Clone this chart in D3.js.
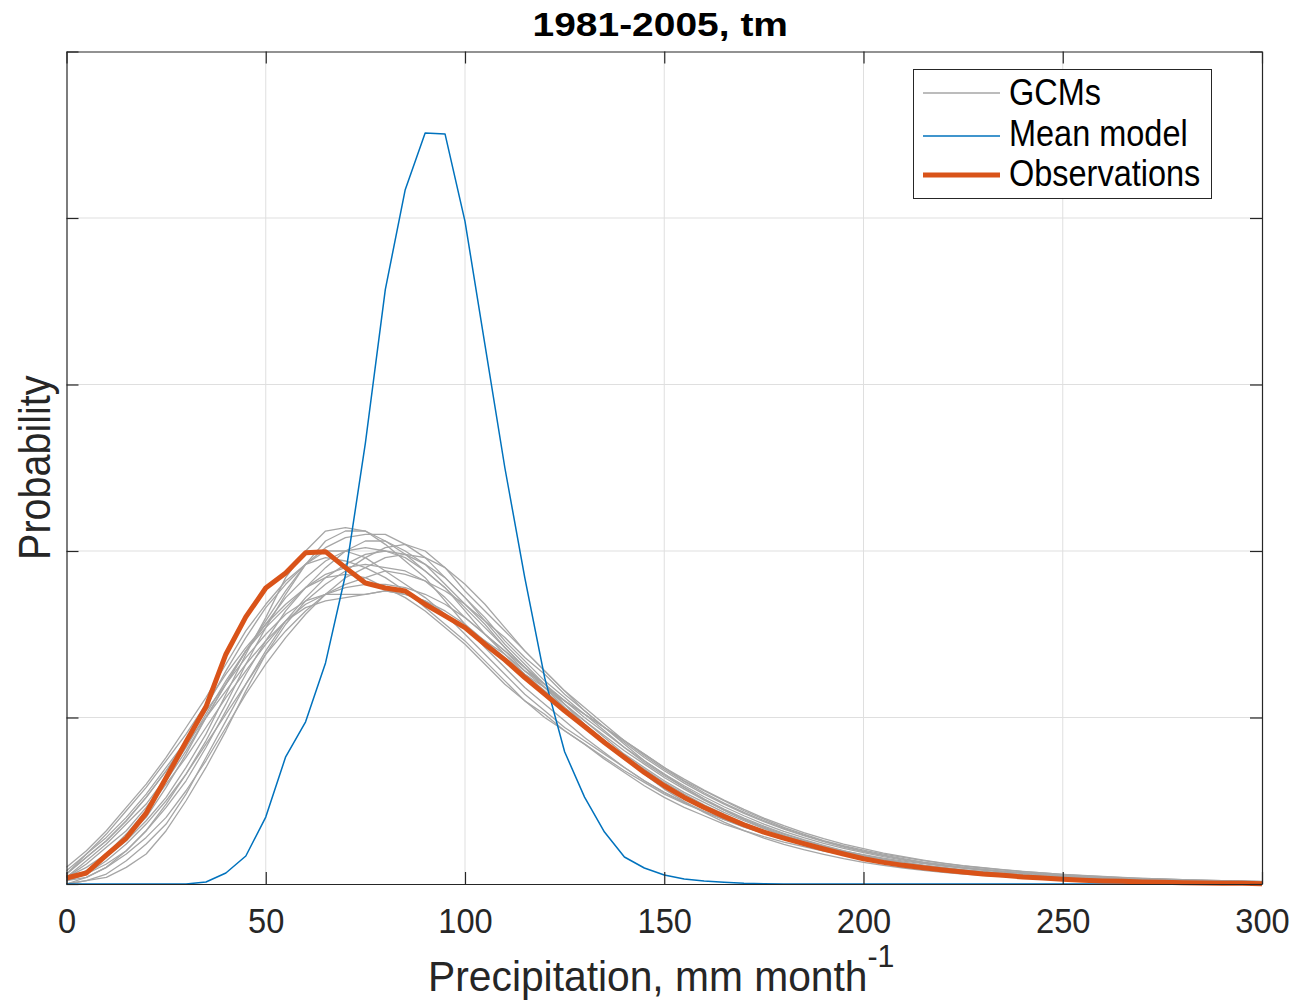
<!DOCTYPE html>
<html>
<head>
<meta charset="utf-8">
<script src="https://cdn.jsdelivr.net/npm/d3@7/dist/d3.min.js"></script>
<style>
  html, body { margin: 0; padding: 0; background: #fff; }
  svg { display: block; font-family: "Liberation Sans", Arial, Helvetica, sans-serif; }
</style>
</head>
<body>
<svg id="chart" width="1295" height="1000"></svg>
<script>
// Precipitation bins (mm month^-1)
const precipBins = [0,5,10,15,20,25,30,35,40,45,50,55,60,65,70,75,80,85,90,95,
  100,105,110,115,120,125,130,135,140,145,150,155,160,165,170,175,180,185,190,195,
  200,205,210,215,220,225,230,235,240,245,250,255,260,265,270,275,280,285,290,295,300];

const xTicks = [0, 50, 100, 150, 200, 250, 300];
const yTicks = [0, 5, 10, 15, 20, 25];   // probability density, 10^-3 per (mm month^-1)

// Multi-model mean distribution
const meanModel = [0,0,0,0,0,0,0,0.06,0.33,0.84,2.01,3.82,4.87,6.64,9.28,13.24,17.85,20.85,22.55,22.52,
  19.9,16.2,12.5,9.2,6.19,3.97,2.61,1.56,0.81,0.48,0.27,0.15,0.09,0.05,0.02,0.01,0,0,0,0,
  0,0,0,0,0,0,0,0,0,0,0,0,0,0,0,0,0,0,0,0,0];

// Observed distribution
const observations = [0.18,0.33,0.87,1.38,2.13,3.19,4.27,5.32,6.9,8.02,8.89,9.34,9.95,9.98,9.5,9.04,8.89,8.8,8.4,8.05,
  7.7,7.2,6.73,6.2,5.7,5.2,4.73,4.25,3.8,3.35,2.95,2.6,2.3,2.03,1.78,1.56,1.38,1.21,1.05,0.9,
  0.76,0.65,0.56,0.49,0.42,0.36,0.3,0.26,0.21,0.18,0.14,0.11,0.09,0.08,0.06,0.05,0.04,0.03,0.02,0.02,0.01];

// Individual GCM distributions
const gcm01 = [0.1,0.4,0.8,1.3,1.9,2.6,3.5,4.5,5.7,6.9,8.0,9.2,10.0,10.6,10.7,10.6,10.3,9.9,9.4,8.9,8.2,7.5,6.9,6.3,5.8,5.3,4.8,4.3,3.8,3.4,3.0,2.65,2.35,2.05,1.8,1.57,1.38,1.2,1.04,0.9,0.78,0.67,0.58,0.5,0.43,0.37,0.32,0.27,0.23,0.2,0.17,0.15,0.13,0.11,0.09,0.08,0.07,0.06,0.05,0.04,0.04];
const gcm02 = [0.3,0.8,1.3,1.9,2.6,3.4,4.2,5.0,5.8,6.6,7.3,7.9,8.3,8.5,8.6,8.7,8.8,8.7,8.5,8.2,7.8,7.3,6.8,6.3,5.9,5.5,5.1,4.7,4.3,3.9,3.5,3.1,2.8,2.5,2.2,1.95,1.7,1.5,1.3,1.15,1.02,0.9,0.8,0.7,0.62,0.54,0.48,0.42,0.37,0.33,0.29,0.25,0.22,0.19,0.17,0.15,0.13,0.11,0.1,0.08,0.07];
const gcm03 = [0.0,0.1,0.3,0.7,1.2,1.8,2.7,3.8,4.9,6.0,7.0,7.9,8.6,9.2,9.6,9.9,10.0,9.9,9.6,9.2,8.6,8.0,7.3,6.7,6.1,5.6,5.1,4.6,4.1,3.65,3.25,2.9,2.55,2.25,1.98,1.74,1.52,1.33,1.16,1.0,0.87,0.75,0.65,0.56,0.48,0.41,0.35,0.3,0.26,0.22,0.19,0.16,0.14,0.12,0.1,0.08,0.07,0.06,0.05,0.04,0.03];
const gcm04 = [0.5,1.0,1.6,2.3,3.0,3.8,4.7,5.6,6.6,7.6,8.4,9.1,9.6,9.8,9.7,9.5,9.2,8.8,8.3,7.8,7.3,6.7,6.1,5.5,5.0,4.6,4.2,3.75,3.35,2.95,2.6,2.3,2.05,1.8,1.6,1.42,1.26,1.12,0.99,0.88,0.78,0.69,0.61,0.54,0.47,0.41,0.36,0.31,0.27,0.23,0.2,0.17,0.15,0.13,0.11,0.09,0.08,0.07,0.06,0.05,0.04];
const gcm05 = [0.0,0.1,0.2,0.5,0.9,1.6,2.5,3.5,4.6,5.8,6.9,7.8,8.5,9.0,9.4,9.8,10.1,10.2,10.0,9.5,8.8,8.2,7.6,7.0,6.4,5.8,5.2,4.7,4.2,3.7,3.3,2.9,2.55,2.22,1.93,1.68,1.46,1.27,1.1,0.95,0.82,0.71,0.61,0.53,0.46,0.39,0.34,0.29,0.25,0.21,0.18,0.15,0.13,0.11,0.09,0.08,0.07,0.06,0.05,0.04,0.03];
const gcm06 = [0.2,0.5,0.9,1.4,2.0,2.9,3.9,5.0,6.0,7.0,7.9,8.8,9.6,10.3,10.6,10.6,10.2,9.7,9.2,8.5,7.8,7.1,6.5,5.9,5.4,4.9,4.4,3.95,3.5,3.1,2.75,2.45,2.18,1.94,1.72,1.52,1.34,1.18,1.03,0.9,0.78,0.68,0.59,0.51,0.44,0.38,0.33,0.28,0.24,0.21,0.18,0.15,0.13,0.11,0.09,0.08,0.07,0.06,0.05,0.04,0.03];
const gcm07 = [0.1,0.4,0.9,1.5,2.2,3.0,3.8,4.7,5.6,6.4,7.2,7.9,8.4,8.7,8.9,9.0,9.0,8.9,8.7,8.4,8.0,7.5,7.0,6.5,6.0,5.5,5.0,4.55,4.1,3.7,3.3,2.95,2.62,2.32,2.05,1.8,1.58,1.39,1.22,1.07,0.94,0.82,0.72,0.63,0.55,0.48,0.42,0.36,0.32,0.28,0.24,0.21,0.18,0.16,0.14,0.12,0.1,0.09,0.08,0.07,0.06];
const gcm08 = [0.2,0.6,1.1,1.6,2.3,3.1,4.0,5.0,6.0,7.0,7.8,8.6,9.2,9.7,10.0,10.1,10.0,9.8,9.4,8.9,8.3,7.7,7.1,6.5,6.0,5.4,4.9,4.4,3.9,3.5,3.1,2.75,2.45,2.15,1.9,1.66,1.45,1.27,1.11,0.97,0.85,0.74,0.64,0.56,0.49,0.42,0.37,0.32,0.28,0.24,0.21,0.18,0.16,0.14,0.12,0.1,0.09,0.08,0.07,0.06,0.05];
const gcm09 = [0.1,0.3,0.6,1.0,1.6,2.4,3.3,4.3,5.4,6.6,7.7,8.7,9.6,10.1,10.4,10.5,10.5,10.2,9.8,9.2,8.6,7.9,7.2,6.6,6.0,5.4,4.8,4.3,3.8,3.3,2.85,2.48,2.15,1.86,1.6,1.38,1.19,1.03,0.89,0.76,0.65,0.56,0.48,0.41,0.35,0.3,0.26,0.22,0.19,0.16,0.14,0.12,0.1,0.09,0.07,0.06,0.05,0.04,0.04,0.03,0.03];
const gcm10 = [0.3,0.9,1.5,2.2,2.9,3.7,4.5,5.4,6.3,7.1,7.8,8.4,8.9,9.2,9.3,9.2,8.9,8.6,8.2,7.7,7.2,6.6,6.0,5.5,5.1,4.6,4.2,3.8,3.4,3.05,2.7,2.42,2.17,1.95,1.75,1.57,1.4,1.25,1.11,0.99,0.88,0.78,0.69,0.61,0.54,0.48,0.42,0.37,0.33,0.29,0.25,0.22,0.19,0.17,0.15,0.13,0.11,0.1,0.09,0.08,0.07];
const gcm11 = [0.0,0.2,0.5,0.9,1.4,2.0,2.8,3.7,4.7,5.7,6.6,7.4,8.1,8.7,9.2,9.5,9.8,9.9,9.8,9.5,9.0,8.4,7.7,7.0,6.4,5.8,5.3,4.8,4.3,3.85,3.45,3.08,2.74,2.43,2.15,1.9,1.67,1.47,1.29,1.13,0.99,0.87,0.76,0.66,0.58,0.5,0.44,0.38,0.33,0.29,0.25,0.22,0.19,0.16,0.14,0.12,0.1,0.09,0.08,0.07,0.06];
const gcm12 = [0.2,0.7,1.2,1.8,2.4,3.2,4.1,5.1,6.1,7.0,7.7,8.3,8.9,9.3,9.5,9.6,9.5,9.4,9.1,8.6,8.0,7.5,7.0,6.4,5.9,5.4,4.9,4.45,4.0,3.6,3.2,2.85,2.52,2.22,1.95,1.71,1.5,1.31,1.14,0.99,0.86,0.75,0.65,0.56,0.49,0.42,0.36,0.31,0.27,0.23,0.2,0.17,0.15,0.13,0.11,0.09,0.08,0.07,0.06,0.05,0.04];
const gcm13 = [0.4,0.9,1.4,2.0,2.7,3.5,4.3,5.2,6.0,6.8,7.5,8.1,8.5,8.7,8.7,8.7,8.8,8.7,8.5,8.1,7.7,7.3,6.9,6.4,6.0,5.5,5.1,4.7,4.3,3.9,3.5,3.15,2.82,2.52,2.24,1.98,1.75,1.54,1.36,1.2,1.06,0.93,0.82,0.72,0.63,0.55,0.49,0.43,0.38,0.33,0.29,0.26,0.23,0.2,0.17,0.15,0.13,0.12,0.1,0.09,0.08];
const gcm14 = [0.1,0.2,0.5,1.0,1.6,2.3,3.1,4.1,5.2,6.3,7.3,8.2,8.9,9.5,10.0,10.3,10.3,10.0,9.6,9.0,8.4,7.8,7.1,6.5,5.9,5.3,4.8,4.3,3.85,3.45,3.05,2.7,2.38,2.09,1.83,1.6,1.4,1.22,1.06,0.92,0.8,0.69,0.6,0.52,0.45,0.39,0.34,0.29,0.25,0.22,0.19,0.16,0.14,0.12,0.1,0.08,0.07,0.06,0.05,0.04,0.04];
const gcm15 = [0.1,0.3,0.7,1.2,1.8,2.5,3.3,4.2,5.1,6.0,6.9,7.6,8.2,8.7,9.0,9.2,9.4,9.3,9.1,8.8,8.4,7.9,7.4,6.8,6.3,5.7,5.2,4.7,4.25,3.8,3.4,3.03,2.7,2.4,2.12,1.87,1.65,1.45,1.27,1.11,0.97,0.85,0.74,0.65,0.57,0.5,0.44,0.38,0.33,0.29,0.25,0.22,0.19,0.17,0.15,0.13,0.11,0.1,0.09,0.08,0.07];
const gcm16 = [0.3,0.8,1.3,1.9,2.6,3.4,4.3,5.3,6.4,7.4,8.3,9.0,9.6,10.0,10.0,9.8,9.4,9.0,8.6,8.1,7.5,6.9,6.3,5.7,5.2,4.7,4.3,3.9,3.5,3.1,2.75,2.45,2.18,1.93,1.71,1.52,1.35,1.19,1.05,0.93,0.82,0.72,0.63,0.55,0.48,0.41,0.36,0.31,0.27,0.23,0.2,0.17,0.15,0.13,0.11,0.09,0.08,0.07,0.06,0.05,0.04];

const gcmSeries = [gcm01, gcm02, gcm03, gcm04, gcm05, gcm06, gcm07, gcm08,
                   gcm09, gcm10, gcm11, gcm12, gcm13, gcm14, gcm15, gcm16];

const legendLabels = ["GCMs", "Mean model", "Observations"];

// ---- layout ----
const svg = d3.select("#chart");
const plotLeft = 66.5, plotRight = 1262, plotTop = 51.5, plotBottom = 884;
const x = d3.scaleLinear().domain([0, 300]).range([plotLeft, plotRight]);
const y = d3.scaleLinear().domain([0, 25]).range([plotBottom, plotTop]);

const axisColor = "#262626";
const gridColor = "#dfdfdf";
const colGCM = "#a6a6a6", colMean = "#0072bd", colObs = "#d95319";

// Grid
const grid = svg.append("g");
grid.selectAll("line.gx").data(xTicks.slice(1, -1)).join("line")
  .attr("class", "gx")
  .attr("x1", d => x(d)).attr("x2", d => x(d))
  .attr("y1", plotTop).attr("y2", plotBottom)
  .attr("stroke", gridColor).attr("stroke-width", 1);
grid.selectAll("line.gy").data(yTicks.slice(1, -1)).join("line")
  .attr("class", "gy")
  .attr("x1", plotLeft).attr("x2", plotRight)
  .attr("y1", d => y(d)).attr("y2", d => y(d))
  .attr("stroke", gridColor).attr("stroke-width", 1);

// Curves
const line = d3.line()
  .x((d, i) => x(precipBins[i]))
  .y(d => y(d));

const curves = svg.append("g").attr("fill", "none").attr("stroke-linejoin", "round");
curves.selectAll("path.gcm").data(gcmSeries).join("path")
  .attr("class", "gcm")
  .attr("d", line)
  .attr("stroke", colGCM).attr("stroke-width", 1.3);
curves.append("path").datum(meanModel)
  .attr("d", line).attr("stroke", colMean).attr("stroke-width", 1.5);
curves.append("path").datum(observations)
  .attr("d", line).attr("stroke", colObs).attr("stroke-width", 5);

// Axes (box with inward ticks on every side)
function styleAxis(g) {
  g.selectAll("path.domain").attr("stroke", axisColor).attr("stroke-width", 1.2).attr("fill", "none");
  g.selectAll(".tick line").attr("stroke", axisColor).attr("stroke-width", 1.2);
}
const axB = svg.append("g").attr("transform", `translate(0,${plotBottom})`)
  .call(d3.axisBottom(x).tickValues(xTicks).tickSize(-12).tickSizeOuter(0));
axB.call(styleAxis);
axB.selectAll(".tick text")
  .attr("y", 0).attr("dy", 0)
  .attr("transform", "scale(1.02,1.12) translate(0,43.8)")
  .attr("fill", axisColor)
  .style("font-size", "32px")
  .style("font-family", "'Liberation Sans', Arial, sans-serif");

svg.append("g").attr("transform", `translate(0,${plotTop})`)
  .call(d3.axisTop(x).tickValues(xTicks).tickSize(-12).tickSizeOuter(0).tickFormat(""))
  .call(styleAxis);
svg.append("g").attr("transform", `translate(${plotLeft},0)`)
  .call(d3.axisLeft(y).tickValues(yTicks).tickSize(-12).tickSizeOuter(0).tickFormat(""))
  .call(styleAxis);
svg.append("g").attr("transform", `translate(${plotRight},0)`)
  .call(d3.axisRight(y).tickValues(yTicks).tickSize(-12).tickSizeOuter(0).tickFormat(""))
  .call(styleAxis);

// Title
svg.append("text")
  .attr("transform", `translate(${(plotLeft + plotRight) / 2 - 4},36) scale(1.067,0.89)`)
  .attr("text-anchor", "middle")
  .style("font-size", "36.5px").style("font-weight", "bold")
  .attr("fill", "#000")
  .text("1981-2005, tm");

// X axis label with superscript
const xl = svg.append("text")
  .attr("transform", `translate(${(plotLeft + plotRight) / 2 - 3},991) scale(1.045,1.08)`)
  .attr("text-anchor", "middle")
  .attr("fill", axisColor)
  .style("font-size", "39px");
xl.append("tspan").text("Precipitation, mm month");
xl.append("tspan").attr("dy", -22).style("font-size", "29px").text("-1");

// Y axis label
svg.append("text")
  .attr("transform", `translate(50,${(plotTop + plotBottom) / 2}) rotate(-90) scale(1,1.12)`)
  .attr("text-anchor", "middle")
  .attr("fill", axisColor)
  .style("font-size", "39.5px")
  .text("Probability");

// Legend
const lg = svg.append("g");
lg.append("rect")
  .attr("x", 913.5).attr("y", 69.5).attr("width", 298).attr("height", 129)
  .attr("fill", "#fff").attr("stroke", axisColor).attr("stroke-width", 1);
const legendRows = [
  { label: legendLabels[0], color: colGCM, width: 1.3, yLine: 93, yText: 105 },
  { label: legendLabels[1], color: colMean, width: 1.5, yLine: 136, yText: 146 },
  { label: legendLabels[2], color: colObs, width: 5, yLine: 175, yText: 186 }
];
legendRows.forEach(r => {
  lg.append("line")
    .attr("x1", 923).attr("x2", 1000)
    .attr("y1", r.yLine).attr("y2", r.yLine)
    .attr("stroke", r.color).attr("stroke-width", r.width);
  lg.append("text")
    .attr("transform", `translate(1009,${r.yText}) scale(1.015,1.13)`)
    .attr("fill", "#000")
    .style("font-size", "32px")
    .text(r.label);
});
</script>
</body>
</html>
